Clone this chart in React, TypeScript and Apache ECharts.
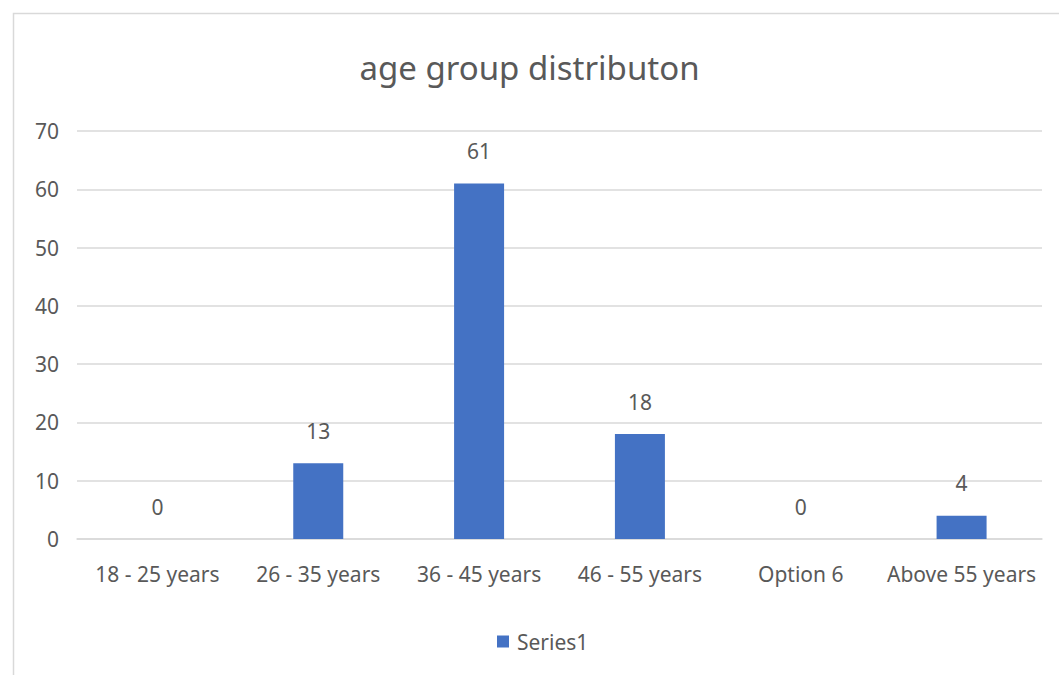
import React, { useEffect, useRef } from "react";
import * as echarts from "echarts";

const categories = [
  "18 - 25 years",
  "26 - 35 years",
  "36 - 45 years",
  "46 - 55 years",
  "Option 6",
  "Above 55 years",
];
const series1 = [0, 13, 61, 18, 0, 4];
const yTicks = { min: 0, max: 70, interval: 10 };

const FONT = "'Noto Sans', 'Open Sans', sans-serif";
const TEXT = "#595959";
const GRID = "#d9d9d9";
const BAR = "#4472c4";

export default function App() {
  const ref = useRef<HTMLDivElement>(null);

  useEffect(() => {
    if (!ref.current) return;
    const chart = echarts.init(ref.current, null, { renderer: "svg" });
    chart.setOption({
      animation: false,
      backgroundColor: "#ffffff",
      title: {
        text: "age group distributon",
        left: "center",
        top: 46,
        textStyle: { fontFamily: FONT, fontSize: 33, fontWeight: "normal", color: TEXT },
      },
      graphic: [
        {
          type: "rect",
          shape: { x: 13.5, y: 13.5, width: 1070, height: 700 },
          style: { fill: "none", stroke: GRID, lineWidth: 1.5 },
          silent: true,
        },
      ],
      legend: {
        top: 626,
        left: 492,
        itemWidth: 12,
        itemHeight: 12,
        itemGap: 10,
        icon: "rect",
        data: ["Series1"],
        textStyle: { fontFamily: FONT, fontSize: 21, color: TEXT, padding: [0, 0, 0, 3] },
      },
      grid: { left: 77, right: 17, top: 131, bottom: 136, containLabel: false },
      xAxis: {
        type: "category",
        data: categories,
        axisLine: { show: true, lineStyle: { color: GRID, width: 1.5 } },
        axisTick: { show: false },
        axisLabel: { fontFamily: FONT, fontSize: 21, color: TEXT, margin: 24, interval: 0 },
      },
      yAxis: {
        type: "value",
        min: yTicks.min,
        max: yTicks.max,
        interval: yTicks.interval,
        axisLine: { show: false },
        axisTick: { show: false },
        splitLine: { lineStyle: { color: GRID, width: 1.5 } },
        axisLabel: { fontFamily: FONT, fontSize: 21, color: TEXT, margin: 18 },
      },
      series: [
        {
          name: "Series1",
          type: "bar",
          data: series1,
          barWidth: 50,
          itemStyle: { color: BAR },
          label: {
            show: true,
            position: "top",
            distance: 22,
            fontFamily: FONT,
            fontSize: 21,
            color: TEXT,
          },
        },
      ],
    });
    return () => chart.dispose();
  }, []);

  return (
    <div
      ref={ref}
      style={{ position: "fixed", left: 0, top: 0, width: 1059, height: 675 }}
    />
  );
}
